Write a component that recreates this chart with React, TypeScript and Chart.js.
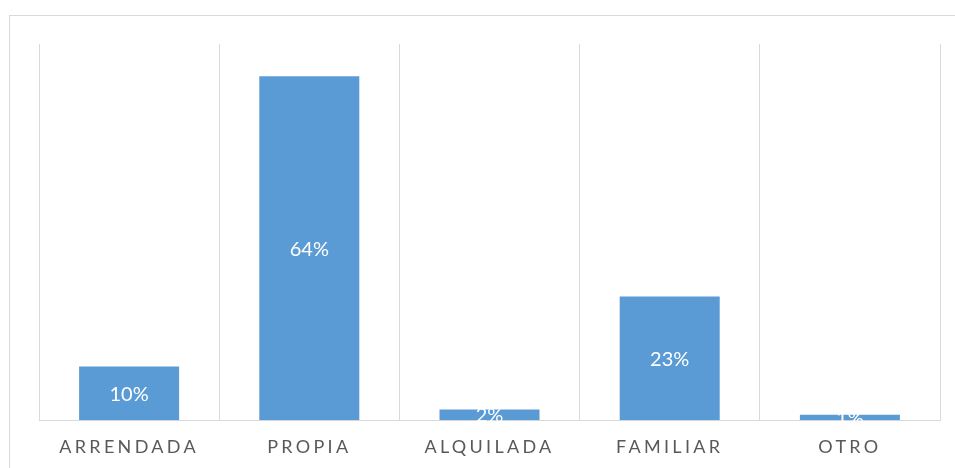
import React, { useEffect, useRef } from "react";
import { Chart, registerables } from "chart.js";

Chart.register(...registerables);

const categories: string[] = ["ARRENDADA", "PROPIA", "ALQUILADA", "FAMILIAR", "OTRO"];
const values: number[] = [10, 64, 2, 23, 1];
const valueLabels: string[] = ["10%", "64%", "2%", "23%", "1%"];

const FONT = "Lato, 'Open Sans', 'DejaVu Sans', sans-serif";

export default function App() {
  const canvasRef = useRef<HTMLCanvasElement | null>(null);

  useEffect(() => {
    const canvas = canvasRef.current;
    if (!canvas) return;
    document.body.style.overflow = "hidden";

    const spacingPlugin = {
      id: "letterSpacing",
      beforeDraw(chart: any) {
        (chart.ctx as any).letterSpacing = "3.3px";
      },
      beforeDatasetsDraw(chart: any) {
        (chart.ctx as any).letterSpacing = "0px";
      },
    };

    const labelPlugin = {
      id: "valueLabels",
      afterDatasetsDraw(chart: any) {
        const ctx = chart.ctx;
        const meta = chart.getDatasetMeta(0);
        ctx.save();
        (ctx as any).letterSpacing = "0px";
        ctx.fillStyle = "#ffffff";
        ctx.font = `20px ${FONT}`;
        ctx.textAlign = "center";
        ctx.textBaseline = "middle";
        meta.data.forEach((bar: any, i: number) => {
          const y = (bar.y + bar.base) / 2;
          ctx.fillText(valueLabels[i], bar.x, y + 1);
        });
        ctx.restore();
      },
    };

    const chart = new Chart(canvas, {
      type: "bar",
      data: {
        labels: categories,
        datasets: [
          {
            data: values,
            backgroundColor: "#5B9BD5",
            borderWidth: 0,
            barPercentage: 0.555,
            categoryPercentage: 1,
          },
        ],
      },
      options: {
        responsive: false,
        animation: false,
        devicePixelRatio: 1,
        layout: { padding: { left: 39, right: 15, top: 44, bottom: 6.2 } },
        plugins: {
          legend: { display: false },
          tooltip: { enabled: false },
        },
        scales: {
          x: {
            grid: {
              display: true,
              color: "#d9d9d9",
              lineWidth: 1,
              drawTicks: false,
              offset: true,
            },
            border: { display: true, color: "#d9d9d9", width: 1 },
            ticks: {
              color: "#595959",
              padding: 16,
              font: { family: FONT, size: 18 },
              maxRotation: 0,
              autoSkip: false,
            },
          },
          y: {
            display: false,
            min: 0,
            max: 70,
          },
        },
      },
      plugins: [spacingPlugin, labelPlugin],
    });

    return () => {
      chart.destroy();
    };
  }, []);

  return (
    <div>
      <div
        style={{
          position: "fixed",
          left: 9,
          top: 15,
          width: 980,
          height: 500,
          border: "1px solid #d9d9d9",
          boxSizing: "border-box",
        }}
      />
      <canvas
        ref={canvasRef}
        width={955}
        height={480}
        style={{ position: "fixed", left: 0, top: 0, width: 955, height: 480 }}
      />
    </div>
  );
}
